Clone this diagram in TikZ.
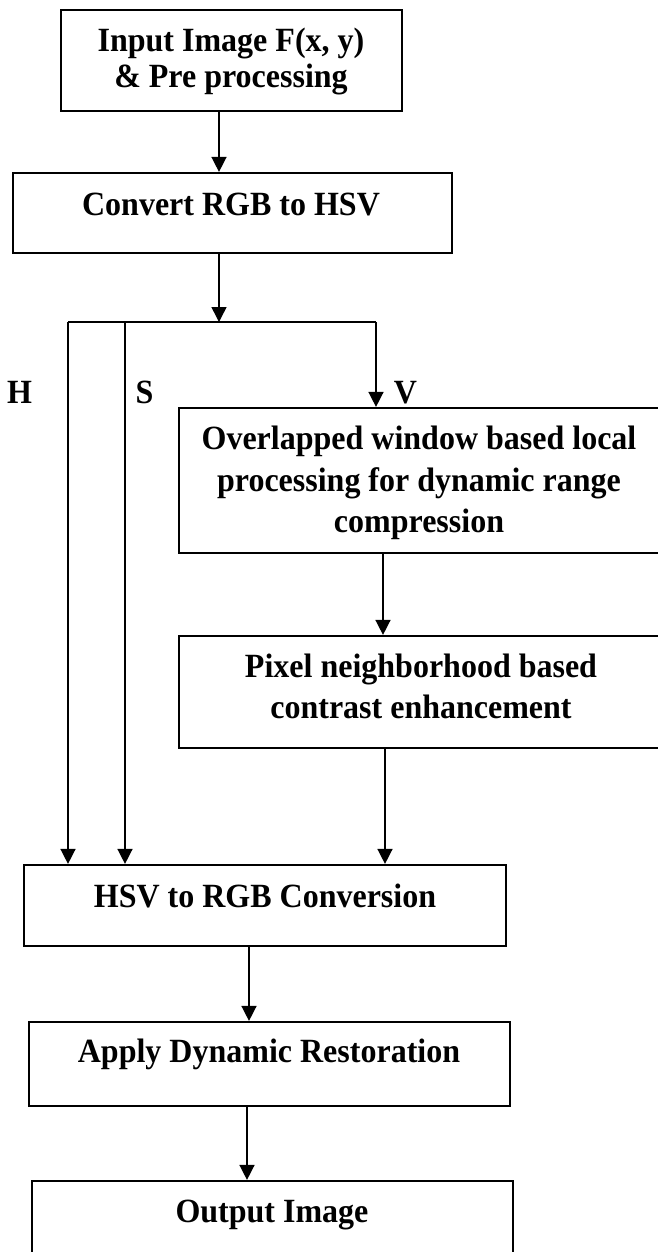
\documentclass[tikz,border=0pt]{standalone}
\usepackage{fontspec}
\usepackage{graphicx}
\setmainfont{Liberation Serif}
\usetikzlibrary{arrows.meta}
\newcommand{\tallt}[1]{\scalebox{1}[1.06]{#1}}
\tikzset{
  box/.style={draw=black, line width=2.2pt, rectangle, inner sep=0pt},
  txt/.style={anchor=base, inner sep=0pt, font=\fontsize{32}{38}\selectfont\bfseries},
  conn/.style={line width=1.5pt},
  arr/.style={conn, -{Triangle[length=15pt, width=15pt]}}
}
\begin{document}
\begin{tikzpicture}[x=1pt, y=-1pt]
\useasboundingbox (0,0) rectangle (657,1252);
% boxes (centre, size)
\node[box, minimum width=341pt, minimum height=101pt] (b1) at (231.5,60.5) {};
\node[box, minimum width=439pt, minimum height=80pt] (b2) at (232.5,213) {};
\node[box, minimum width=481pt, minimum height=145pt] (b3) at (419.5,480.5) {};
\node[box, minimum width=481pt, minimum height=112pt] (b4) at (419.5,692) {};
\node[box, minimum width=482pt, minimum height=81pt] (b5) at (265,905.5) {};
\node[box, minimum width=481pt, minimum height=84pt] (b6) at (269.5,1064) {};
\node[box, minimum width=481pt, minimum height=90pt] (b7) at (272.5,1226) {};
% texts
\node[txt] (t1a) at (231,52) {\tallt{Input Image F(x, y)}};
\node[txt] (t1b) at (231,88) {\tallt{\& Pre processing}};
\node[txt] (t2) at (231,215) {\tallt{Convert RGB to HSV}};
\node[txt] (t3a) at (419,449) {\tallt{Overlapped window based local}};
\node[txt] (t3b) at (419,491) {\tallt{processing for dynamic range}};
\node[txt] (t3c) at (419,532) {\tallt{compression}};
\node[txt] (t4a) at (421,677) {\tallt{Pixel neighborhood based}};
\node[txt] (t4b) at (421,718) {\tallt{contrast enhancement}};
\node[txt] (t5) at (265,907) {\tallt{HSV to RGB Conversion}};
\node[txt] (t6) at (269,1062) {\tallt{Apply Dynamic Restoration}};
\node[txt] (t7) at (272,1222) {\tallt{Output Image}};
% channel labels
\node[txt] (lh) at (19.5,403) {\tallt{H}};
\node[txt] (ls) at (144.5,403) {\tallt{S}};
\node[txt] (lv) at (405.5,403) {\tallt{V}};
% junction
\coordinate (j) at (219,322);
\coordinate (jh) at (68,322);
\coordinate (js) at (125,322);
\coordinate (jv) at (376,322);
% connectors
\draw[arr] (b1.south -| j) -- (b2.north -| j);
\draw[arr] (b2.south -| j) -- (j);
\draw[conn] (jh) -- (jv);
\draw[arr] (jh) -- (jh |- b5.north);
\draw[arr] (js) -- (js |- b5.north);
\draw[arr] (jv) -- (jv |- b3.north);
\draw[arr] ([xshift=-36.5pt]b3.south) -- ([xshift=-36.5pt]b4.north);
\draw[arr] ([xshift=-34.5pt]b4.south) -- ([xshift=-34.5pt]b4.south |- b5.north);
\draw[arr] ([xshift=-16pt]b5.south) -- ([xshift=-16pt]b5.south |- b6.north);
\draw[arr] ([xshift=-22.5pt]b6.south) -- ([xshift=-22.5pt]b6.south |- b7.north);
\end{tikzpicture}
\end{document}
